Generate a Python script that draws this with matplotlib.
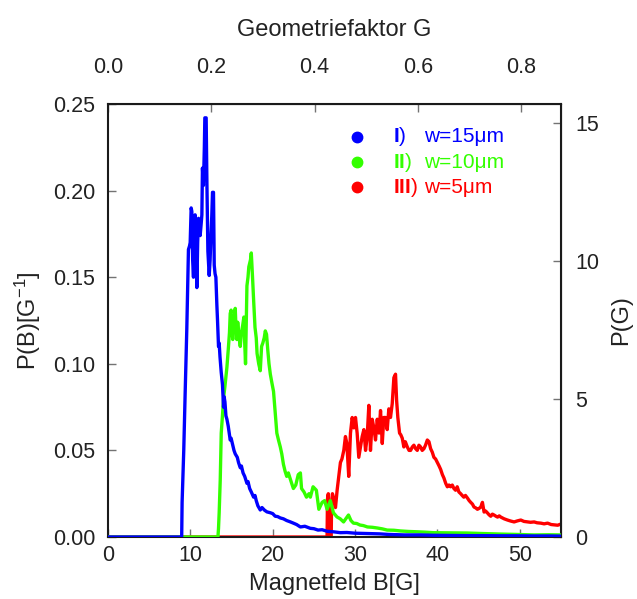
import matplotlib
matplotlib.use("Agg")
import matplotlib.pyplot as plt

plt.rcParams['font.family'] = ['Liberation Sans', 'DejaVu Sans']
plt.rcParams['mathtext.fontset'] = 'custom'
plt.rcParams['mathtext.rm'] = 'Liberation Sans'
plt.rcParams['mathtext.bf'] = 'Liberation Sans:bold'
plt.rcParams['mathtext.default'] = 'regular'

# Umrechnung Magnetfeld B -> Geometriefaktor G (G = B / K), P(G) = K * P(B)
K = 62.7

# I) w=15um
b1 = [0, 8.95, 9.0, 9.2, 9.37, 9.57, 9.77, 9.9, 9.98, 10.1, 10.18, 10.28, 10.38, 10.48,
      10.58, 10.68, 10.79, 10.89, 10.99, 11.1, 11.19, 11.3, 11.40, 11.47, 11.59, 11.7,
      11.76, 11.92, 12.01, 12.13, 12.29, 12.4, 12.49, 12.6, 12.69, 12.81, 12.90, 13.0,
      13.10, 13.22, 13.3, 13.42, 13.5, 13.6, 13.75, 13.9, 14.03, 14.1, 14.2, 14.32, 14.44,
      14.6, 14.72, 14.84, 14.95, 15.1, 15.3, 15.45, 15.7, 15.85, 16.06, 16.2, 16.4, 16.6,
      16.87, 17.0, 17.2, 17.4, 17.68, 17.85, 18.0, 18.2, 18.49, 18.7, 19.0, 19.3, 19.71,
      20.0, 20.3, 20.6, 20.92, 21.3, 21.7, 22.1, 22.51, 22.9, 23.36, 23.9, 24.57, 25.0,
      25.5, 26.0, 26.61, 27.37, 28.22, 29.0, 30, 31.5, 33.0, 34, 36, 38.0, 39.5, 41.5,
      43.6, 45.5, 47.7, 49.5, 51.7, 53.5, 55]
p1 = [0, 0, 0.02, 0.05, 0.083, 0.12, 0.166, 0.168, 0.170, 0.19, 0.188, 0.16, 0.15, 0.175,
      0.186, 0.17, 0.144, 0.17, 0.184, 0.18, 0.174, 0.18, 0.186, 0.213, 0.203, 0.225,
      0.242, 0.242, 0.205, 0.165, 0.151, 0.16, 0.173, 0.185, 0.199, 0.199, 0.157, 0.152,
      0.150, 0.134, 0.125, 0.110, 0.112, 0.104, 0.095, 0.088, 0.075, 0.081, 0.078, 0.070,
      0.068, 0.064, 0.060, 0.056, 0.057, 0.054, 0.050, 0.048, 0.046, 0.043, 0.040, 0.041,
      0.037, 0.035, 0.031, 0.032, 0.028, 0.026, 0.023, 0.024, 0.021, 0.018, 0.0156, 0.017,
      0.0155, 0.0145, 0.014, 0.0135, 0.012, 0.0118, 0.011, 0.0105, 0.0095, 0.0088, 0.008,
      0.0072, 0.0058, 0.0062, 0.005, 0.0048, 0.004, 0.0042, 0.0033, 0.003, 0.0025, 0.0026,
      0.0022, 0.002, 0.0018, 0.0015, 0.0012, 0.0012, 0.001, 0.0009, 0.0008, 0.0008,
      0.0007, 0.0007, 0.0006, 0.0006, 0.0005]

# II) w=10um
b2 = [0, 13.35, 13.42, 13.5, 13.63, 13.75, 13.9, 14.03, 14.2, 14.44, 14.6, 14.75, 14.84,
      14.95, 15.05, 15.15, 15.25, 15.45, 15.55, 15.65, 15.75, 15.9, 16.06, 16.2, 16.35,
      16.5, 16.6, 16.7, 16.87, 17.0, 17.1, 17.3, 17.4, 17.55, 17.68, 17.85, 18.0, 18.1,
      18.3, 18.49, 18.65, 18.8, 18.97, 19.1, 19.25, 19.4, 19.55, 19.71, 19.9, 20.1, 20.3,
      20.5, 20.7, 20.92, 21.1, 21.3, 21.5, 21.7, 21.9, 22.1, 22.3, 22.51, 22.8, 23.1,
      23.36, 23.5, 23.8, 24.1, 24.4, 24.57, 24.9, 25.3, 25.6, 26.0, 26.3, 26.6, 27.0,
      27.37, 27.8, 28.2, 28.6, 29.2, 29.5, 29.8, 30.2, 30.6, 31.0, 31.5, 32.1, 32.7, 33.3,
      33.9, 34.7, 35.5, 36.5, 37.6, 38.5, 39.5, 41.5, 43.6, 45.5, 47.7, 49.5, 51.7, 53.5,
      55]
p2 = [0, 0, 0.005, 0.014, 0.033, 0.060, 0.070, 0.080, 0.087, 0.098, 0.108, 0.118, 0.129,
      0.131, 0.120, 0.114, 0.122, 0.132, 0.120, 0.114, 0.124, 0.116, 0.110, 0.118, 0.122,
      0.127, 0.112, 0.100, 0.145, 0.150, 0.156, 0.160, 0.164, 0.150, 0.137, 0.121, 0.115,
      0.106, 0.100, 0.096, 0.110, 0.112, 0.115, 0.119, 0.117, 0.108, 0.100, 0.094, 0.089,
      0.084, 0.072, 0.060, 0.056, 0.052, 0.048, 0.042, 0.038, 0.035, 0.037, 0.034, 0.031,
      0.028, 0.030, 0.036, 0.037, 0.028, 0.026, 0.023, 0.025, 0.023, 0.029, 0.027, 0.016,
      0.020, 0.021, 0.016, 0.021, 0.014, 0.0116, 0.0105, 0.0087, 0.0127, 0.0095, 0.008,
      0.0078, 0.0069, 0.0066, 0.0058, 0.0056, 0.0052, 0.0047, 0.004, 0.0039, 0.0035,
      0.0032, 0.003, 0.0028, 0.0025, 0.0024, 0.0023, 0.002, 0.0017, 0.0015, 0.0012, 0.0013,
      0.0012]

# III) w=5um
b3 = [0, 26.6, 26.65, 26.75, 26.85, 27.1, 27.15, 27.25, 27.37, 27.62, 27.82, 28.02, 28.22,
      28.4, 28.63, 28.83, 29.0, 29.23, 29.44, 29.65, 29.85, 30.05, 30.25, 30.45, 30.65,
      30.86, 31.07, 31.27, 31.47, 31.67, 31.87, 32.08, 32.28, 32.48, 32.69, 32.9, 33.09,
      33.30, 33.49, 33.7, 33.90, 34.10, 34.3, 34.51, 34.71, 34.91, 35.04, 35.19, 35.40,
      35.55, 35.73, 35.92, 36.1, 36.34, 36.55, 36.74, 36.95, 37.14, 37.35, 37.55, 37.75,
      37.95, 38.15, 38.36, 38.55, 38.77, 38.97, 39.17, 39.37, 39.57, 39.78, 39.99, 40.2,
      40.39, 40.6, 40.79, 41.0, 41.20, 41.4, 41.6, 41.8, 42.0, 42.2, 42.4, 42.6, 42.82,
      43.0, 43.2, 43.4, 43.64, 43.85, 44.04, 44.25, 44.44, 44.65, 44.85, 45.05, 45.26,
      45.46, 45.66, 45.85, 46.07, 46.27, 46.47, 46.67, 46.87, 47.1, 47.3, 47.5, 47.69,
      48.1, 48.50, 48.9, 49.31, 49.7, 50.12, 50.5, 50.94, 51.3, 51.74, 52.1, 52.55, 52.95,
      53.37, 53.8, 54.17, 54.6, 55]
p3 = [0, 0, 0.022, 0.025, 0.0, 0.0, 0.020, 0.025, 0.023, 0.017, 0.027, 0.035, 0.043,
      0.045, 0.050, 0.058, 0.054, 0.035, 0.060, 0.069, 0.063, 0.069, 0.060, 0.046, 0.052,
      0.058, 0.062, 0.050, 0.058, 0.076, 0.050, 0.068, 0.063, 0.056, 0.068, 0.060, 0.073,
      0.054, 0.069, 0.069, 0.062, 0.074, 0.069, 0.077, 0.092, 0.094, 0.079, 0.069, 0.060,
      0.059, 0.057, 0.052, 0.055, 0.052, 0.050, 0.050, 0.052, 0.053, 0.051, 0.050, 0.053,
      0.052, 0.050, 0.051, 0.053, 0.056, 0.055, 0.051, 0.049, 0.046, 0.045, 0.043, 0.041,
      0.039, 0.036, 0.034, 0.031, 0.029, 0.030, 0.029, 0.030, 0.028, 0.027, 0.029, 0.026,
      0.025, 0.024, 0.023, 0.024, 0.0225, 0.021, 0.020, 0.019, 0.0173, 0.0168, 0.016,
      0.0165, 0.0173, 0.020, 0.0144, 0.015, 0.0139, 0.0128, 0.012, 0.0132, 0.0127, 0.012,
      0.0115, 0.0122, 0.0115, 0.0105, 0.0098, 0.0092, 0.0087, 0.0093, 0.0098, 0.009,
      0.0087, 0.0085, 0.0087, 0.0082, 0.008, 0.0076, 0.008, 0.0072, 0.007, 0.0068, 0.0075]

colors = ['#0000ff', '#33ff00', '#ff0000']
labels = [('I', 'w=15\u03bcm'), ('II', 'w=10\u03bcm'), ('III', 'w=5\u03bcm')]

fig = plt.figure(figsize=(6.37, 5.99), dpi=100)
ax = fig.add_axes([0.1695, 0.1035, 0.7112, 0.7229])

# rot unten, gruen in der Mitte, blau oben
ax.plot(b3, p3, color=colors[2], lw=2.4, zorder=2)
ax.plot(b2, p2, color=colors[1], lw=2.4, zorder=3)
ax.plot(b1, p1, color=colors[0], lw=2.4, zorder=4)

ax.set_xlim(0, 55)
ax.set_ylim(0, 0.25)
ax.set_xticks([0, 10, 20, 30, 40, 50])
ax.set_yticks([0, 0.05, 0.10, 0.15, 0.20, 0.25])
ax.set_yticklabels(['0.00', '0.05', '0.10', '0.15', '0.20', '0.25'])

tc = '#222222'
fs_tick = 15.5
fs_lab = 17
for s in ax.spines.values():
    s.set_linewidth(1.5)
    s.set_color('#1a1a1a')
ax.tick_params(direction='in', length=6, width=1, color='0.45', labelsize=fs_tick,
               labelcolor=tc)
ax.tick_params(axis='x', pad=6)
ax.tick_params(axis='y', pad=9)

ax.set_xlabel('Magnetfeld B[G]', fontsize=fs_lab, color=tc, labelpad=5)
ax.set_ylabel('P(B)[G$^{-1}$]', fontsize=fs_lab, color=tc, labelpad=7)

top = ax.secondary_xaxis('top', functions=(lambda b: b / K, lambda g: g * K))
top.set_xticks([0.0, 0.2, 0.4, 0.6, 0.8])
top.set_xticklabels(['0.0', '0.2', '0.4', '0.6', '0.8'])
top.tick_params(direction='in', length=6, width=1, color='0.45', labelsize=fs_tick,
                labelcolor=tc, pad=19)
top.set_xlabel('Geometriefaktor G', fontsize=fs_lab, color=tc, labelpad=15)

right = ax.secondary_yaxis('right', functions=(lambda p: p * K, lambda q: q / K))
right.set_yticks([0, 5, 10, 15])
right.tick_params(direction='in', length=6, width=1, color='0.45', labelsize=fs_tick,
                  labelcolor=tc, pad=10)
right.set_ylabel('P(G)', fontsize=fs_lab, color=tc, labelpad=8)

# Legende von Hand
ys = [0.924, 0.866, 0.808]
for (num, w), c, y in zip(labels, colors, ys):
    ax.plot([0.55], [y], 'o', color=c, ms=7.5, transform=ax.transAxes, clip_on=False)
    ax.text(0.629, y, r'$\mathbf{' + num + '}$)', color=c, fontsize=15,
            transform=ax.transAxes, va='center', ha='left')
    ax.text(0.698, y, w, color=c, fontsize=15, transform=ax.transAxes,
            va='center', ha='left')

fig.savefig('out.png', dpi=100)
